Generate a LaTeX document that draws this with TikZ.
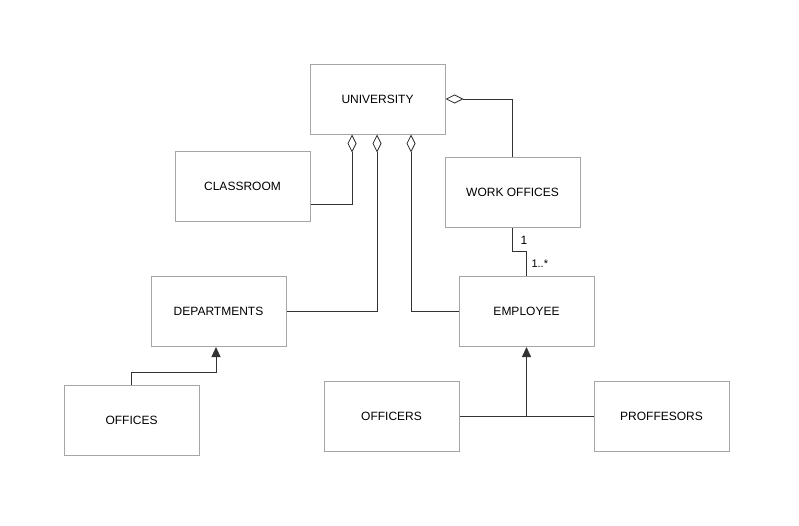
\documentclass[tikz,border=0pt]{standalone}
\usepackage{fontspec}
\setmainfont{Liberation Sans}
\usetikzlibrary{arrows.meta}

\begin{document}
\begin{tikzpicture}[x=1pt,y=-1pt]
    \tikzset{cls/.style = {shape=rectangle,draw=gray!70,line width=1pt,minimum width=135pt,minimum height=70pt,font=\fontsize{12}{14}\selectfont}}
    \tikzset{agg/.style = {-{Diamond[open,length=18pt,width=9pt]},draw=black!80,line width=0.8pt}}
    \tikzset{gen/.style = {-{Triangle[length=10pt,width=9pt]},draw=black!80,line width=0.8pt}}
    \useasboundingbox (0,0) rectangle (799,525);
    % classes
    \node[cls] (uni) at (377.5,99) {UNIVERSITY};
    \node[cls] (room) at (242.5,186.5) {CLASSROOM};
    \node[cls] (work) at (512.5,192.5) {WORK OFFICES};
    \node[cls] (dept) at (218.5,311.5) {DEPARTMENTS};
    \node[cls] (emp) at (526.5,311.5) {EMPLOYEE};
    \node[cls] (off) at (131.5,420.5) {OFFICES};
    \node[cls] (ofcr) at (391.5,416) {OFFICERS};
    \node[cls] (prof) at (661.5,416) {PROFFESORS};
    \coordinate (j) at (526.5,416);
    % aggregations
    \draw[agg] (room.east |- 0,204) -| (uni.south -| 352,0);
    \draw[agg] (dept.east) -| (uni.south -| 377,0);
    \draw[agg] (emp.west) -| (uni.south -| 411,0);
    \draw[agg] (work.north -| 512,0) |- (uni.east);
    % association
    \draw[draw=black!80,line width=0.8pt] (work.south -| 512,0) -- (512,251) -- (526.5,251) -- (emp.north);
    \node[font=\fontsize{12}{14}\selectfont,anchor=west] (m1) at (517,240) {1};
    \node[font=\fontsize{11}{13}\selectfont,anchor=west] (m2) at (528,264) {1..*};
    % generalisations
    \draw[gen] (off.north -| 131.5,0) -- (131.5,372) -- (216,372) -- (dept.south -| 216,0);
    \draw[draw=black!80,line width=0.8pt] (ofcr.east) -- (prof.west);
    \draw[gen] (j) -- (emp.south);
\end{tikzpicture}
\end{document}
